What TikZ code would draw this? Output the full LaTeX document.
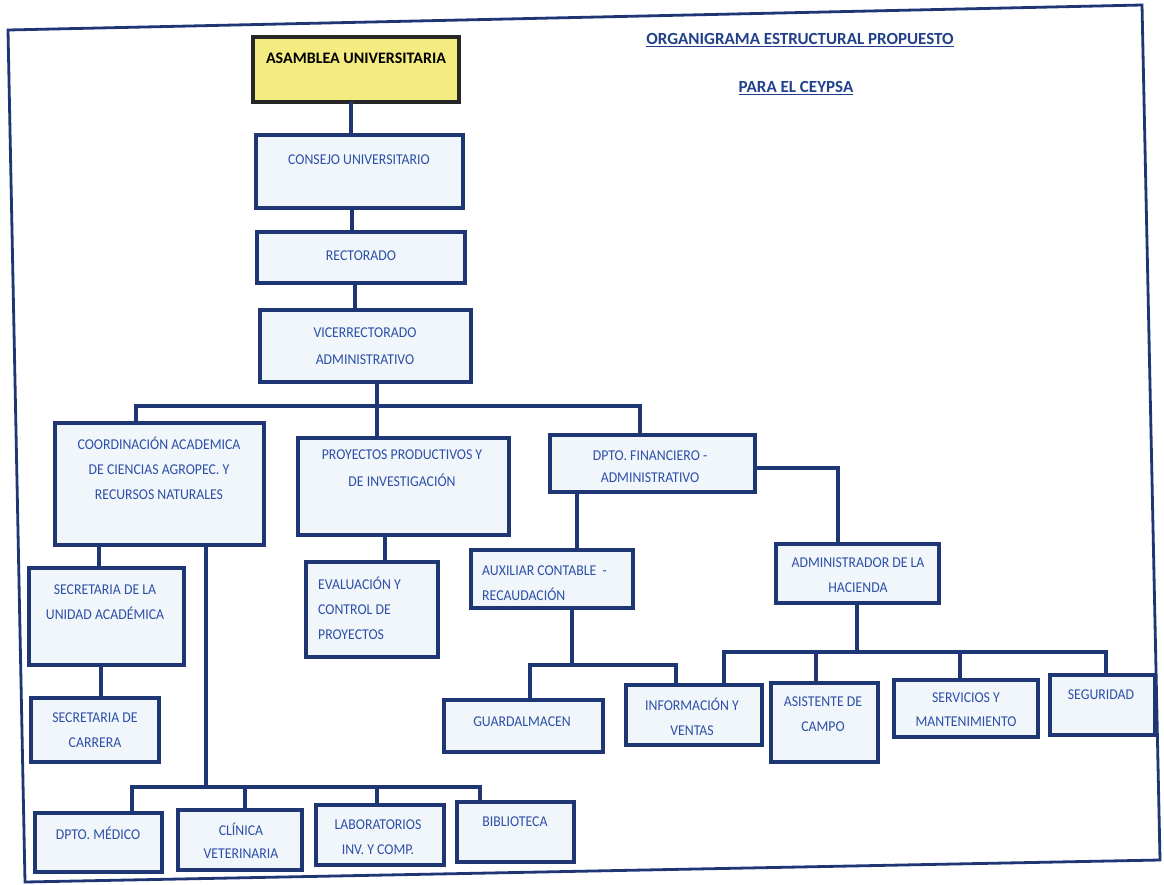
\documentclass[tikz,border=0pt]{standalone}
\usepackage{fontspec}
\setmainfont{Carlito}
\newfontfamily\boxfont{Carlito}[FakeStretch=0.92]
\definecolor{navy}{HTML}{1F3675}
\definecolor{txtblue}{HTML}{2D50A8}
\definecolor{boxfill}{HTML}{F1F6FB}
\definecolor{asamfill}{HTML}{F4EC80}
\definecolor{titleblue}{HTML}{22408C}
\newcommand\mkbox[6][bx]{\node[#1, minimum width={(#5-#3)*1pt}, minimum height={(#6-#4)*1pt}] (#2) at ({(#3+#5)/2},{(#4+#6)/2}) {};}
\begin{document}
\begin{tikzpicture}[x=1pt,y=-1pt,
  bx/.style={rectangle, draw=navy, line width=3.6pt, fill=boxfill, inner sep=0pt, outer sep=0pt},
  asambox/.style={bx, draw=black!85, fill=asamfill, line width=4pt},
  ln/.style={draw=navy, line width=3.6pt},
  frameline/.style={draw=navy, line width=2.8pt, line join=miter},
  txt/.style={text=txtblue, font=\boxfont\fontsize{15}{25}\selectfont, align=center, inner sep=0pt},
  txtl/.style={txt, align=left, anchor=west},
  ttl/.style={text=titleblue, font=\fontsize{17}{20}\selectfont\bfseries, inner sep=0pt}]
\useasboundingbox (0,0) rectangle (1164,884);
\fill[white] (0,0) rectangle (1164,884);
% outer frame (scanned, slightly tilted)
\draw[frameline] (8,30) -- (1142,5) -- (1160,860) -- (25,882) -- cycle;

% titles
\node[ttl] (title1) at (800,40) {\underline{ORGANIGRAMA ESTRUCTURAL PROPUESTO}};
\node[ttl] (title2) at (796,88) {\underline{PARA EL CEYPSA}};

% boxes
\mkbox[asambox]{asam}{253}{37}{459}{102}
\mkbox{cons}{256}{135}{463}{208}
\mkbox{rect}{257}{232}{465}{283}
\mkbox{vice}{260}{310}{471}{382}
\mkbox{coord}{55}{423}{264}{545}
\mkbox{proy}{298}{438}{509}{535}
\mkbox{dfin}{550}{435}{755}{492}
\mkbox{secu}{29}{568}{184}{665}
\mkbox{secc}{31}{698}{159}{762}
\mkbox{eval}{306}{562}{438}{657}
\mkbox{aux}{471}{550}{633}{608}
\mkbox{adm}{776}{544}{939}{603}
\mkbox{guard}{444}{700}{603}{752}
\mkbox{info}{626}{685}{762}{745}
\mkbox{asis}{771}{683}{878}{762}
\mkbox{serv}{894}{680}{1038}{737}
\mkbox{seg}{1050}{675}{1155}{735}
\mkbox{dmed}{35}{813}{162}{872}
\mkbox{clin}{178}{810}{302}{870}
\mkbox{lab}{316}{805}{444}{865}
\mkbox{bib}{457}{802}{574}{862}

% texts
\node[txt, text=black, font=\fontsize{16}{18}\selectfont\bfseries] (t-asam) at (356,58) {ASAMBLEA UNIVERSITARIA};
\node[txt] (t-cons) at (359,160) {CONSEJO UNIVERSITARIO};
\node[txt] (t-rect) at (361,256) {RECTORADO};
\node[txt, font=\boxfont\fontsize{15}{27}\selectfont] (t-vice) at (365,346) {VICERRECTORADO\\ADMINISTRATIVO};
\node[txt] (t-coord) at (159,468) {COORDINACIÓN ACADEMICA\\DE CIENCIAS AGROPEC. Y\\RECURSOS NATURALES};
\node[txt, font=\boxfont\fontsize{15}{27}\selectfont] (t-proy) at (402,468) {PROYECTOS PRODUCTIVOS Y\\DE INVESTIGACIÓN};
\node[txt, font=\boxfont\fontsize{15}{22}\selectfont] (t-dfin) at (650,467) {DPTO. FINANCIERO -\\ADMINISTRATIVO};
\node[txt] (t-secu) at (105,602) {SECRETARIA DE LA\\UNIDAD ACADÉMICA};
\node[txt] (t-secc) at (95,730) {SECRETARIA DE\\CARRERA};
\node[txtl] (t-eval) at (318,608) {EVALUACIÓN Y\\CONTROL DE\\PROYECTOS};
\node[txtl] (t-aux) at (482,583) {AUXILIAR CONTABLE \ -\\RECAUDACIÓN};
\node[txt] (t-adm) at (858,575) {ADMINISTRADOR DE LA\\HACIENDA};
\node[txt] (t-guard) at (522,722) {GUARDALMACEN};
\node[txt] (t-info) at (692,717) {INFORMACIÓN Y\\VENTAS};
\node[txt] (t-asis) at (823,714) {ASISTENTE DE\\CAMPO};
\node[txt, font=\boxfont\fontsize{15}{24}\selectfont] (t-serv) at (966,710) {SERVICIOS Y\\MANTENIMIENTO};
\node[txt] (t-seg) at (1101,695) {SEGURIDAD};
\node[txt] (t-dmed) at (98,833) {DPTO. MÉDICO};
\node[txt, font=\boxfont\fontsize{15}{23}\selectfont] (t-clin) at (241,841) {CLÍNICA\\VETERINARIA};
\node[txt] (t-lab) at (378,837) {LABORATORIOS\\INV. Y COMP.};
\node[txt] (t-bib) at (515,822) {BIBLIOTECA};

% bus coordinates
\coordinate (busA) at (377,406);
\coordinate (busB) at (206,787);
\coordinate (busC) at (572,665);
\coordinate (busD) at (857,652);

% connectors
\draw[ln] (asam.south -| 351,0) -- (cons.north -| 351,0);
\draw[ln] (cons.south -| 352,0) -- (rect.north -| 352,0);
\draw[ln] (rect.south -| 355,0) -- (vice.north -| 355,0);
\draw[ln] (vice.south -| busA) -- (busA);
\draw[ln] (coord.north -| 136,0) -- (136,406) -- (640,406) -- (dfin.north -| 640,0);
\draw[ln] (busA) -- (proy.north -| busA);

\draw[ln] (coord.south -| 99,0) -- (secu.north -| 99,0);
\draw[ln] (secu.south -| 101,0) -- (secc.north -| 101,0);
\draw[ln] (coord.south -| busB) -- (busB);
\draw[ln] (dmed.north -| 132,0) -- (132,787) -- (480,787) -- (bib.north -| 480,0);
\draw[ln] (clin.north -| 245,0) -- (245,787);
\draw[ln] (lab.north -| 377,0) -- (377,787);

\draw[ln] (proy.south -| 385,0) -- (eval.north -| 385,0);
\draw[ln] (dfin.south -| 577,0) -- (aux.north -| 577,0);
\draw[ln] (dfin.east |- 0,468) -- (838,468) -- (adm.north -| 838,0);

\draw[ln] (aux.south -| busC) -- (busC);
\draw[ln] (guard.north -| 530,0) -- (530,665) -- (676,665) -- (info.north -| 676,0);

\draw[ln] (adm.south -| busD) -- (busD);
\draw[ln] (info.north -| 724,0) -- (724,652) -- (1106,652) -- (seg.north -| 1106,0);
\draw[ln] (asis.north -| 816,0) -- (816,652);
\draw[ln] (serv.north -| 960,0) -- (960,652);
\end{tikzpicture}
\end{document}
